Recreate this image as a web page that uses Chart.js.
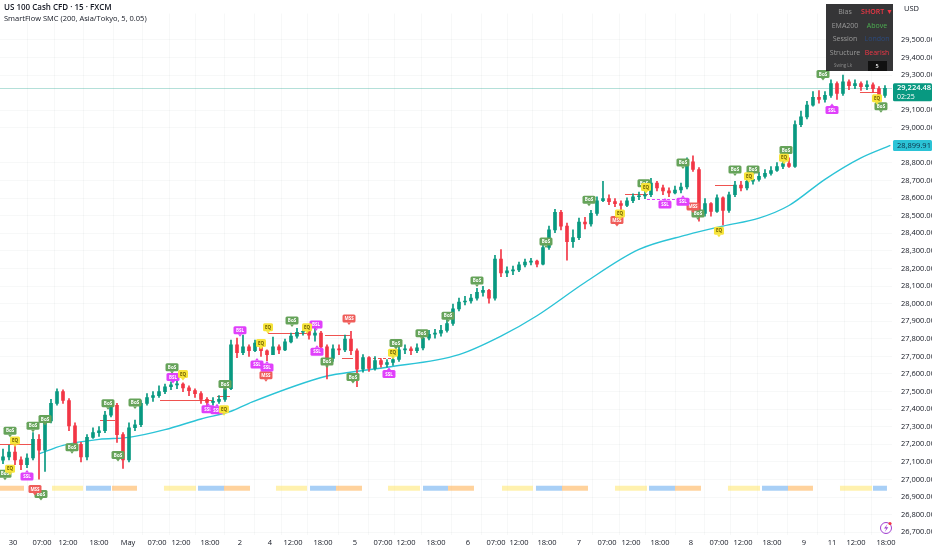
<!DOCTYPE html>
<html>
<head>
<meta charset="utf-8">
<title>US 100 Cash CFD - 15 - FXCM</title>
<script src="https://cdn.jsdelivr.net/npm/chart.js@4.4.1/dist/chart.umd.min.js"></script>
<style>
  html, body { margin: 0; padding: 0; background: #ffffff; }
  #wrap { width: 932px; height: 550px; position: relative; }
</style>
</head>
<body>
<div id="wrap"><canvas id="chart"></canvas></div>
<script>
// 15-minute candles (one slot per candle, open = previous close)
const firstOpen = 27110;
const closes = [
  27128, 27156, 27111, 27084, 27122, 27228, 27167, 27333, 27433, 27499,
  27449, 27305, 27200, 27128, 27239, 27266, 27277, 27366, 27422, 27255,
  27111, 27294, 27311, 27433, 27466, 27477, 27499, 27527, 27538, 27543,
  27521, 27505, 27488, 27455, 27438, 27444, 27455, 27516, 27765, 27721,
  27754, 27732, 27776, 27732, 27710, 27754, 27737, 27782, 27815, 27837,
  27843, 27821, 27832, 27754, 27688, 27743, 27737, 27798, 27732, 27627,
  27693, 27632, 27676, 27654, 27665, 27682, 27737, 27743, 27732, 27748,
  27804, 27826, 27832, 27848, 27887, 27970, 28009, 28015, 28031, 28064,
  28076, 28031, 28253, 28175, 28186, 28192, 28220, 28236, 28242, 28225,
  28319, 28419, 28519, 28441, 28353, 28375, 28464, 28453, 28513, 28585,
  28597, 28580, 28569, 28558, 28585, 28608, 28613, 28619, 28685, 28658,
  28641, 28630, 28646, 28663, 28807, 28763, 28513, 28569, 28525, 28602,
  28530, 28619, 28674, 28658, 28696, 28707, 28724, 28741, 28757, 28780,
  28796, 28780, 29018, 29062, 29129, 29173, 29162, 29184, 29251, 29195,
  29262, 29240, 29251, 29234, 29245, 29223, 29184, 29224.48
];
const highs = [
  27172, 27194, 27211, 27128, 27145, 27266, 27255, 27349, 27455, 27516,
  27510, 27460, 27322, 27211, 27255, 27294, 27300, 27388, 27449, 27433,
  27266, 27322, 27338, 27449, 27488, 27499, 27532, 27543, 27555, 27560,
  27549, 27532, 27516, 27499, 27466, 27466, 27477, 27538, 27793, 27804,
  27821, 27765, 27793, 27787, 27737, 27809, 27765, 27798, 27832, 27859,
  27865, 27854, 27865, 27843, 27765, 27765, 27765, 27821, 27843, 27743,
  27710, 27699, 27699, 27688, 27682, 27699, 27754, 27765, 27754, 27771,
  27821, 27848, 27854, 27876, 27909, 27998, 28031, 28042, 28053, 28087,
  28098, 28081, 28275, 28308, 28209, 28214, 28236, 28253, 28258, 28247,
  28342, 28441, 28536, 28530, 28458, 28419, 28486, 28491, 28530, 28608,
  28696, 28619, 28597, 28585, 28602, 28624, 28635, 28641, 28713, 28696,
  28674, 28658, 28669, 28685, 28829, 28840, 28774, 28597, 28574, 28619,
  28608, 28635, 28696, 28696, 28719, 28730, 28746, 28763, 28780, 28802,
  28818, 28829, 29040, 29095, 29151, 29206, 29212, 29206, 29273, 29262,
  29300, 29273, 29273, 29262, 29267, 29256, 29234, 29240
];
const lows = [
  27089, 27111, 27084, 27056, 27067, 27111, 27001, 27045, 27322, 27422,
  27433, 27277, 27167, 27100, 27111, 27233, 27244, 27266, 27355, 27211,
  27062, 27100, 27277, 27300, 27422, 27444, 27466, 27488, 27510, 27516,
  27499, 27477, 27466, 27433, 27416, 27422, 27433, 27444, 27510, 27693,
  27710, 27699, 27726, 27699, 27676, 27710, 27715, 27732, 27776, 27804,
  27821, 27798, 27787, 27732, 27571, 27671, 27710, 27726, 27710, 27527,
  27610, 27615, 27621, 27638, 27638, 27649, 27671, 27715, 27710, 27721,
  27737, 27793, 27804, 27815, 27837, 27876, 27959, 27992, 28003, 28020,
  28042, 28003, 28020, 28153, 28153, 28164, 28181, 28209, 28220, 28209,
  28220, 28308, 28403, 28419, 28247, 28319, 28364, 28425, 28441, 28502,
  28580, 28563, 28552, 28525, 28552, 28574, 28591, 28597, 28608, 28641,
  28619, 28608, 28624, 28630, 28652, 28752, 28469, 28497, 28497, 28519,
  28447, 28519, 28608, 28641, 28646, 28680, 28696, 28713, 28730, 28752,
  28768, 28774, 28774, 29007, 29051, 29123, 29140, 29145, 29173, 29162,
  29184, 29217, 29223, 29212, 29217, 29201, 29162, 29173
];

// EMA 200 (sampled along the curve, in candle slots)
const emaX = [6.5, 10.5, 16.5, 21.5, 27.5, 33.5, 38.5, 41.5, 54.5, 59.5, 64.5, 76.5, 83.5, 89.5, 97.5, 106.5, 114.5, 120.5, 126.5, 131.5, 137.5, 143.5, 148.4];
const emaV = [27145, 27194, 27228, 27239, 27283, 27344, 27388, 27433, 27588, 27615, 27638, 27710, 27815, 27931, 28120, 28308, 28391, 28441, 28486, 28558, 28707, 28829, 28899.91];

// time axis labels (candle slot -> text)
const xTickPos = [2.17, 7.0, 11.33, 16.5, 21.33, 26.17, 30.17, 35.0, 40.0, 45.0, 48.83, 53.83, 59.17, 63.83, 67.67, 72.67, 78.0, 82.67, 86.5, 91.17, 96.5, 101.17, 105.17, 110.0, 115.17, 119.83, 123.83, 128.67, 134.0, 138.67, 142.67, 147.67];
const xTickText = ['30', '07:00', '12:00', '18:00', 'May', '07:00', '12:00', '18:00', '2', '4', '12:00', '18:00', '5', '07:00', '12:00', '18:00', '6', '07:00', '12:00', '18:00', '7', '07:00', '12:00', '18:00', '8', '07:00', '12:00', '18:00', '9', '11', '12:00', '18:00'];
const yTicks = [26700, 26800, 26900, 27000, 27100, 27200, 27300, 27400, 27500, 27600, 27700, 27800, 27900, 28000, 28100, 28200, 28300, 28400, 28500, 28600, 28700, 28800, 29000, 29100, 29300, 29400, 29500];

// session strip (Asia / London / New York)
const sessStart = [0, 8.67, 14.33, 18.67, 27.33, 33, 37.33, 46, 51.67, 56, 64.67, 70.5, 74.67, 83.67, 89.33, 93.67, 102.5, 108.17, 112.5, 121.33, 127, 131.33, 140, 145.5];
const sessEnd   = [4, 13.83, 18.5, 22.83, 32.67, 37.33, 41.67, 51.17, 56, 60.33, 70, 74.67, 79, 88.83, 93.67, 98, 107.83, 112.5, 116.83, 126.67, 131.33, 135.5, 145.33, 147.83];
const sessKind  = ['ny', 'asia', 'london', 'ny', 'asia', 'london', 'ny', 'asia', 'london', 'ny', 'asia', 'london', 'ny', 'asia', 'london', 'ny', 'asia', 'london', 'ny', 'asia', 'london', 'ny', 'asia', 'london'];

// structure levels
const lvlStart = [0, 16.67, 26.67, 36.17, 44.67, 54.17, 57, 62.17, 104.17, 107.83, 119.17, 143.33];
const lvlEnd   = [5.33, 19.17, 35.5, 38.33, 51.17, 58.33, 58.83, 65.5, 108, 114.5, 122.5, 146.67];
const lvlPrice = [27200, 27338, 27449, 27477, 27832, 27821, 27693, 27693, 28624, 28597, 28674, 29206];
const lvlKind  = ['bos', 'bos', 'bos', 'bos', 'bos', 'bos', 'bos', 'dash', 'bos', 'liq', 'bos', 'bos'];

// SMC tags
const tagX = [
  1.67, 5.5, 7.5, 12, 18, 19.67, 22.5, 28.67, 37.5, 6.83, 48.67, 54.5, 58.83, 66, 70.33, 74.67, 79.5, 91, 98.17, 107.33, 113.83, 116.33, 122.5, 125.5, 131, 137.17, 146.83, 0.83,
  44.33, 58.17, 102.83, 115.5, 5.83,
  4.5, 40, 28.83, 34.67, 36.17, 42.83, 44.5, 52.67, 52.83, 64.83, 110.83, 113.83, 138.67,
  2.5, 1.67, 30.5, 37.33, 43.5, 44.67, 51.17, 65.5, 103.33, 107.67, 119.83, 124.83, 130.67, 146.17
];
const tagP = [
  27277, 27305, 27344, 27183, 27433, 27139, 27438, 27638, 27543, 26917, 27904, 27671, 27582, 27776, 27832, 27931, 28131, 28353, 28591, 28685, 28802, 28513, 28763, 28763, 28874, 29306, 29123, 27033,
  27593, 27915, 28475, 28552, 26945,
  27017, 27848, 27582, 27399, 27394, 27654, 27637, 27881, 27726, 27599, 28563, 28580, 29101,
  27222, 27061, 27599, 27399, 27776, 27865, 27865, 27721, 28513, 28663, 28414, 28724, 28829, 29168
];
const tagText = [
  'BoS', 'BoS', 'BoS', 'BoS', 'BoS', 'BoS', 'BoS', 'BoS', 'BoS', 'BoS', 'BoS', 'BoS', 'BoS', 'BoS', 'BoS', 'BoS', 'BoS', 'BoS', 'BoS', 'BoS', 'BoS', 'BoS', 'BoS', 'BoS', 'BoS', 'BoS', 'BoS', 'BoS',
  'MSS', 'MSS', 'MSS', 'MSS', 'MSS',
  'SSL', 'BSL', 'BSL', 'SSL', 'SSL', 'SSL', 'SSL', 'BSL', 'SSL', 'SSL', 'SSL', 'SSL', 'SSL',
  'EQ', 'EQ', 'EQ', 'EQ', 'EQ', 'EQ', 'EQ', 'EQ', 'EQ', 'EQ', 'EQ', 'EQ', 'EQ', 'EQ'
];

// dashboard
const panelKeys = ['Bias', 'EMA200', 'Session', 'Structure'];
const panelVals = ['SHORT \u25BC', 'Above', 'London', 'Bearish'];

const sessionLevel = 26950;
const UP = '#089981', DOWN = '#f23645';
const FONT = '"Open Sans", "Liberation Sans", sans-serif';

const opens = closes.map((c, i) => i === 0 ? firstOpen : closes[i - 1]);
const candleColors = closes.map((c, i) => c >= opens[i] ? UP : DOWN);
const wickData = closes.map((c, i) => ({ x: i + 0.5, y: [lows[i], highs[i]] }));
const bodyData = closes.map((c, i) => ({ x: i + 0.5, y: [opens[i], c] }));
const emaData = emaX.map((x, i) => ({ x: x, y: emaV[i] }));

function fmt(v) {
  return v.toLocaleString('en-US', { minimumFractionDigits: 2, maximumFractionDigits: 2 });
}
function rrect(ctx, x, y, w, h, r) {
  ctx.beginPath();
  ctx.moveTo(x + r, y);
  ctx.lineTo(x + w - r, y);
  ctx.quadraticCurveTo(x + w, y, x + w, y + r);
  ctx.lineTo(x + w, y + h - r);
  ctx.quadraticCurveTo(x + w, y + h, x + w - r, y + h);
  ctx.lineTo(x + r, y + h);
  ctx.quadraticCurveTo(x, y + h, x, y + h - r);
  ctx.lineTo(x, y + r);
  ctx.quadraticCurveTo(x, y, x + r, y);
  ctx.closePath();
}

const sessColors = { asia: 'rgba(255, 232, 120, 0.6)', london: 'rgba(110, 175, 240, 0.6)', ny: 'rgba(255, 180, 90, 0.6)' };
const tagStyle = {
  BoS: { bg: '#66a35a', fg: '#ffffff' },
  MSS: { bg: '#ef5d5a', fg: '#ffffff' },
  SSL: { bg: '#e040fb', fg: '#ffffff' },
  BSL: { bg: '#e040fb', fg: '#ffffff' },
  EQ:  { bg: '#f7e43a', fg: '#6b5d00' }
};

const overlay = {
  id: 'overlay',
  beforeDatasetsDraw(chart) {
    const { ctx, chartArea: a, scales: { x, y } } = chart;
    ctx.save();
    // last price line
    const py = Math.round(y.getPixelForValue(closes[closes.length - 1])) + 0.5;
    ctx.strokeStyle = 'rgba(8, 153, 129, 0.3)';
    ctx.lineWidth = 1;
    ctx.beginPath(); ctx.moveTo(a.left, py); ctx.lineTo(a.right, py); ctx.stroke();

    // sessions
    const sy = y.getPixelForValue(sessionLevel);
    sessStart.forEach((s, i) => {
      const x1 = x.getPixelForValue(s), x2 = x.getPixelForValue(sessEnd[i]);
      ctx.fillStyle = sessColors[sessKind[i]];
      ctx.fillRect(x1, sy - 2.5, x2 - x1, 5);
    });

    // structure levels
    lvlStart.forEach((s, i) => {
      const x1 = x.getPixelForValue(s), x2 = x.getPixelForValue(lvlEnd[i]);
      const ly = Math.round(y.getPixelForValue(lvlPrice[i])) + 0.5;
      ctx.strokeStyle = lvlKind[i] === 'liq' ? '#e040fb' : '#ef5350';
      ctx.setLineDash(lvlKind[i] === 'bos' ? [] : [3, 2]);
      ctx.beginPath(); ctx.moveTo(x1, ly); ctx.lineTo(x2, ly); ctx.stroke();
    });
    ctx.setLineDash([]);
    ctx.restore();
  },
  afterDatasetsDraw(chart) {
    const { ctx, scales: { x, y } } = chart;
    ctx.save();
    ctx.textAlign = 'center';
    ctx.textBaseline = 'middle';
    tagX.forEach((tx, i) => {
      const t = tagText[i];
      const st = tagStyle[t];
      const px = x.getPixelForValue(tx), py = y.getPixelForValue(tagP[i]);
      const w = t === 'EQ' ? 10 : 13, h = 8;
      ctx.fillStyle = st.bg;
      rrect(ctx, px - w / 2, py - h / 2, w, h, 1.5);
      ctx.fill();
      ctx.beginPath();
      if (t === 'SSL') {
        ctx.moveTo(px - 2, py - h / 2); ctx.lineTo(px + 2, py - h / 2); ctx.lineTo(px, py - h / 2 - 2.5);
      } else {
        ctx.moveTo(px - 2, py + h / 2); ctx.lineTo(px + 2, py + h / 2); ctx.lineTo(px, py + h / 2 + 2.5);
      }
      ctx.fill();
      ctx.fillStyle = st.fg;
      ctx.font = 'bold 4.5px ' + FONT;
      ctx.fillText(t, px, py + 0.3);
    });
    ctx.restore();
  },
  afterDraw(chart) {
    const { ctx, scales: { y } } = chart;
    ctx.save();
    // header
    ctx.textAlign = 'left';
    ctx.textBaseline = 'middle';
    ctx.fillStyle = '#131722';
    ctx.font = '600 8px ' + FONT;
    ctx.fillText('US 100 Cash CFD \u00B7 15 \u00B7 FXCM', 4, 8);
    ctx.font = '7.5px ' + FONT;
    ctx.fillText('SmartFlow SMC (200, Asia/Tokyo, 5, 0.05)', 4, 19);

    // currency
    ctx.font = '7.5px ' + FONT;
    ctx.fillText('USD', 904, 9);

    // dashboard panel
    ctx.fillStyle = 'rgba(36, 36, 38, 0.92)';
    ctx.fillRect(826, 4, 67, 67);
    ctx.textAlign = 'center';
    panelKeys.forEach((k, i) => {
      const ry = 12 + i * 13.7;
      ctx.font = '7px ' + FONT;
      ctx.fillStyle = '#9a9a9a';
      ctx.fillText(k, 845, ry);
      ctx.font = (i === 0 ? '600 ' : '') + '7px ' + FONT;
      ctx.fillStyle = i === 1 ? '#4caf50' : (i === 2 ? '#2b4a7e' : '#f23645');
      ctx.fillText(panelVals[i], 877, ry);
    });
    ctx.font = '4.5px ' + FONT;
    ctx.fillStyle = '#8a8a8a';
    ctx.fillText('Swing Lk', 843, 66);
    ctx.fillStyle = '#111111';
    ctx.fillRect(868, 61, 19, 10);
    ctx.fillStyle = '#ffffff';
    ctx.font = '600 5.5px ' + FONT;
    ctx.fillText('5', 877, 66.5);

    // last price tag
    const last = closes[closes.length - 1];
    const ly = y.getPixelForValue(last);
    ctx.fillStyle = UP;
    rrect(ctx, 893, ly - 5, 39, 18, 1.5);
    ctx.fill();
    ctx.fillStyle = '#ffffff';
    ctx.textAlign = 'left';
    ctx.font = '600 7.5px ' + FONT;
    ctx.fillText(fmt(last), 897, ly);
    ctx.font = '7px ' + FONT;
    ctx.fillText('02:25', 897, ly + 8.5);

    // EMA tag
    const emaLast = emaV[emaV.length - 1];
    const ey = y.getPixelForValue(emaLast);
    ctx.fillStyle = '#2bc3d6';
    rrect(ctx, 893, ey - 5.5, 39, 11, 1.5);
    ctx.fill();
    ctx.fillStyle = '#0d2f45';
    ctx.font = '7.5px ' + FONT;
    ctx.fillText(fmt(emaLast), 897, ey + 0.5);

    // alert icon
    ctx.strokeStyle = '#a23fd1';
    ctx.lineWidth = 1;
    ctx.beginPath(); ctx.arc(886, 528, 5.5, 0, Math.PI * 2); ctx.stroke();
    ctx.fillStyle = '#a23fd1';
    ctx.beginPath();
    ctx.moveTo(887.5, 524); ctx.lineTo(884, 528.6); ctx.lineTo(886.3, 528.6);
    ctx.lineTo(884.8, 532); ctx.lineTo(888.3, 527.2); ctx.lineTo(886, 527.2);
    ctx.closePath(); ctx.fill();
    ctx.fillStyle = '#f23645';
    ctx.beginPath(); ctx.arc(890, 523.5, 1.6, 0, Math.PI * 2); ctx.fill();
    ctx.restore();
  }
};

document.addEventListener('DOMContentLoaded', () => {
  const ctx = document.getElementById('chart').getContext('2d');
  new Chart(ctx, {
    data: {
      datasets: [
        {
          type: 'line',
          label: 'EMA 200',
          data: emaData,
          borderColor: '#2bc3d6',
          borderWidth: 1.4,
          pointRadius: 0,
          cubicInterpolationMode: 'monotone',
          order: 3
        },
        {
          type: 'bar',
          label: 'wick',
          data: wickData,
          backgroundColor: candleColors,
          barThickness: 1,
          grouped: false,
          borderWidth: 0,
          order: 2
        },
        {
          type: 'bar',
          label: 'body',
          data: bodyData,
          backgroundColor: candleColors,
          barThickness: 3,
          grouped: false,
          borderWidth: 0,
          minBarLength: 1,
          order: 1
        }
      ]
    },
    options: {
      responsive: true,
      maintainAspectRatio: false,
      animation: false,
      events: [],
      layout: { padding: 0 },
      plugins: {
        legend: { display: false },
        title: { display: false },
        tooltip: { enabled: false }
      },
      scales: {
        x: {
          type: 'linear',
          min: 0,
          max: 148.67,
          offset: false,
          border: { display: false },
          grid: { color: 'rgba(42, 46, 57, 0.035)', drawTicks: false },
          afterBuildTicks: (s) => { s.ticks = xTickPos.map(v => ({ value: v })); },
          afterFit: (s) => { s.height = 15; },
          ticks: {
            autoSkip: false,
            maxRotation: 0,
            padding: 3,
            color: '#131722',
            font: { family: FONT, size: 7.5 },
            callback: (v, i) => xTickText[i]
          }
        },
        y: {
          position: 'right',
          min: 26684,
          max: 29650,
          border: { display: false },
          grid: { color: 'rgba(42, 46, 57, 0.035)', drawTicks: false },
          afterBuildTicks: (s) => { s.ticks = yTicks.map(v => ({ value: v })); },
          afterFit: (s) => { s.width = 40; },
          ticks: {
            padding: 9,
            color: '#131722',
            font: { family: FONT, size: 7.5 },
            callback: (v) => fmt(v)
          }
        }
      }
    },
    plugins: [overlay]
  });
});
</script>
</body>
</html>
